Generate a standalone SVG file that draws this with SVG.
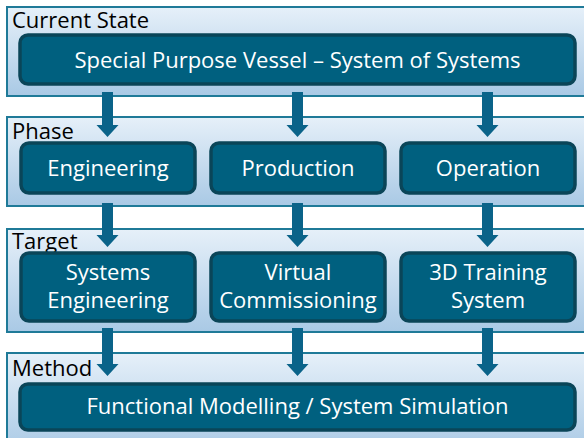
<svg xmlns="http://www.w3.org/2000/svg" width="584" height="438" viewBox="0 0 584 438">
<defs>
<linearGradient id="pg" x1="0" y1="0" x2="0" y2="1">
<stop offset="0" stop-color="#e6f0f9"/>
<stop offset="1" stop-color="#a9c9e5"/>
</linearGradient>
<style>
.panel{fill:url(#pg);stroke:#1f7a98;stroke-width:2}
.node{fill:#00607f;stroke:#0a4558;stroke-width:3.5}
.lbl{font-family:"Open Sans","Liberation Sans",sans-serif;font-size:22px;fill:#000}
.nt{font-family:"Open Sans","Liberation Sans",sans-serif;font-size:22px;fill:#fff;text-anchor:middle}
.arr{fill:#0a6389}
</style>
</defs>
<rect width="584" height="438" fill="#fff"/>
<g id="panels">
<rect class="panel" x="7" y="7" width="590" height="89"/>
<rect class="panel" x="7" y="117" width="590" height="89"/>
<rect class="panel" x="7" y="229" width="590" height="103"/>
<rect class="panel" x="7" y="353" width="590" height="100"/>
<text class="lbl" x="12" y="28">Current State</text>
<text class="lbl" x="12" y="139">Phase</text>
<text class="lbl" x="12" y="249">Target</text>
<text class="lbl" x="12" y="376">Method</text>
</g>
<g id="connectors">
<path class="arr" d="M102,92 h11 v33 h5.5 l-11,12 l-11,-12 h5.5 z"/>
<path class="arr" d="M292,92 h11 v33 h5.5 l-11,12 l-11,-12 h5.5 z"/>
<path class="arr" d="M482,92 h11 v33 h5.5 l-11,12 l-11,-12 h5.5 z"/>
<path class="arr" d="M102,203 h11 v32 h5.5 l-11,12 l-11,-12 h5.5 z"/>
<path class="arr" d="M292,203 h11 v32 h5.5 l-11,12 l-11,-12 h5.5 z"/>
<path class="arr" d="M482,203 h11 v32 h5.5 l-11,12 l-11,-12 h5.5 z"/>
<path class="arr" d="M102,328 h11 v36 h5.5 l-11,12 l-11,-12 h5.5 z"/>
<path class="arr" d="M292,328 h11 v36 h5.5 l-11,12 l-11,-12 h5.5 z"/>
<path class="arr" d="M482,328 h11 v36 h5.5 l-11,12 l-11,-12 h5.5 z"/>
</g>
<g id="n-vessel">
<rect class="node" x="20" y="35" width="555" height="49" rx="8"/>
<text class="nt" x="297.5" y="68">Special Purpose Vessel – System of Systems</text>
</g>
<g id="n-engineering">
<rect class="node" x="21" y="143" width="174" height="50" rx="8"/>
<text class="nt" x="108" y="176">Engineering</text>
</g>
<g id="n-production">
<rect class="node" x="211" y="143" width="174" height="50" rx="8"/>
<text class="nt" x="298" y="176">Production</text>
</g>
<g id="n-operation">
<rect class="node" x="401" y="143" width="174" height="50" rx="8"/>
<text class="nt" x="488" y="176">Operation</text>
</g>
<g id="n-syseng">
<rect class="node" x="21" y="253" width="174" height="68" rx="8"/>
<text class="nt" x="108" y="280">Systems</text>
<text class="nt" x="108" y="308">Engineering</text>
</g>
<g id="n-vc">
<rect class="node" x="211" y="253" width="174" height="68" rx="8"/>
<text class="nt" x="298" y="280">Virtual</text>
<text class="nt" x="298" y="308">Commissioning</text>
</g>
<g id="n-3d">
<rect class="node" x="401" y="253" width="174" height="68" rx="8"/>
<text class="nt" x="488" y="280">3D Training</text>
<text class="nt" x="488" y="308">System</text>
</g>
<g id="n-method">
<rect class="node" x="20" y="384" width="555" height="46" rx="8"/>
<text class="nt" x="297.5" y="414">Functional Modelling / System Simulation</text>
</g>
</svg>
